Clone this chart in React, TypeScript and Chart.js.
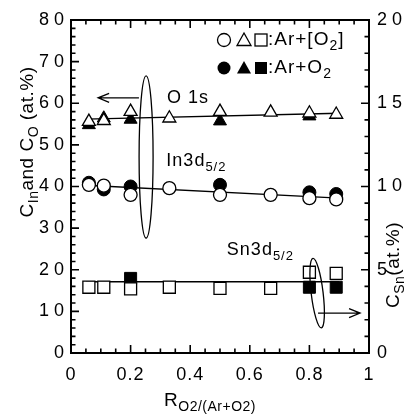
import React, { useEffect, useRef } from 'react';
import { Chart, registerables } from 'chart.js';
Chart.register(...registerables);

// ---------- data ----------
const xOpen = [0.06, 0.11, 0.2, 0.33, 0.5, 0.67, 0.8, 0.89];
const o1sOpen = [55.6, 55.8, 58.0, 56.4, 58.0, 57.8, 57.6, 57.3];
const in3dOpen = [40.4, 40.2, 38.0, 39.6, 38.0, 38.0, 37.2, 36.9];
const snOpen = [3.95, 3.95, 3.85, 3.95, 3.88, 3.88, 4.85, 4.78];

const xFilledO = [0.06, 0.11, 0.2, 0.5, 0.8];
const o1sFilled = [54.8, 56.4, 56.1, 55.7, 56.9];
const xFilledIn = [0.06, 0.11, 0.2, 0.5, 0.8, 0.89];
const in3dFilled = [40.9, 39.3, 40.0, 40.4, 38.6, 38.2];
const xFilledSn = [0.2, 0.8, 0.89];
const snFilled = [4.48, 3.95, 3.95];

const fitX = [0.05, 0.9];
const o1sFit = [56.2, 57.6];
const in3dFit = [40.3, 37.2];
const snFit = [4.28, 4.28];

const xTickLabels = ['0', '0.2', '0.4', '0.6', '0.8', '1'];
const xTickValues = [0, 0.2, 0.4, 0.6, 0.8, 1];
const yTickValues = [0, 10, 20, 30, 40, 50, 60, 70, 80];
const y2TickValues = [0, 5, 10, 15, 20];

// annotations (x in R units, y in left-axis units)
const o1sLabel = { x: 0.322, y: 61.3 };
const o1sArrow = { x1: 0.228, x2: 0.091, y: 61.3 };
const o1sEllipse = { x: 0.252, y: 47.1, rx: 0.0235, ry: 19.5 };
const inLabel = { x: 0.32, y: 46.0 };
const snLabel = { x: 0.523, y: 24.7 };
const snEllipse = { x: 0.826, y: 14.4, rx: 0.02, ry: 8.4 };
const snArrow = { x1: 0.829, x2: 0.97, y: 9.6 };

const FONT = '"Liberation Sans", Arial, Helvetica, sans-serif';

type Seg = { t: string; sub?: boolean };

function segWidth(ctx: CanvasRenderingContext2D, segs: Seg[], size: number, sub: number) {
  let w = 0;
  for (const s of segs) {
    ctx.font = `${s.sub ? sub : size}px ${FONT}`;
    w += ctx.measureText(s.t).width;
  }
  return w;
}

function drawSegs(ctx: CanvasRenderingContext2D, segs: Seg[], x: number, yMid: number, size: number, sub: number, align: 'left' | 'center') {
  ctx.textAlign = 'left';
  ctx.textBaseline = 'middle';
  let cx = x;
  if (align === 'center') cx = x - segWidth(ctx, segs, size, sub) / 2;
  for (const s of segs) {
    ctx.font = `${s.sub ? sub : size}px ${FONT}`;
    ctx.fillText(s.t, cx, s.sub ? yMid + size * 0.32 : yMid);
    cx += ctx.measureText(s.t).width;
  }
}

function arrow(ctx: CanvasRenderingContext2D, x1: number, y1: number, x2: number, y2: number) {
  ctx.beginPath();
  ctx.moveTo(x1, y1);
  ctx.lineTo(x2, y2);
  const dir = Math.sign(x2 - x1);
  ctx.moveTo(x2 - dir * 11, y2 - 4.5);
  ctx.lineTo(x2, y2);
  ctx.lineTo(x2 - dir * 11, y2 + 4.5);
  ctx.stroke();
}

const deco = {
  id: 'deco',
  afterDraw(chart: any) {
    const { ctx, chartArea: a, scales } = chart;
    const sx = scales.x, sy = scales.y, sy2 = scales.y2;
    const px = (v: number) => sx.getPixelForValue(v);
    const py = (v: number) => sy.getPixelForValue(v);
    const py2 = (v: number) => sy2.getPixelForValue(v);
    ctx.save();
    ctx.strokeStyle = '#000';
    ctx.fillStyle = '#000';
    ctx.lineWidth = 2;
    ctx.strokeRect(a.left, a.top, a.right - a.left, a.bottom - a.top);

    // ticks (inward)
    ctx.lineWidth = 1.6;
    ctx.beginPath();
    for (let i = 0; i <= 20; i++) {
      const x = px(i * 0.05);
      const L = i % 4 === 0 ? 8 : 4.5;
      ctx.moveTo(x, a.bottom); ctx.lineTo(x, a.bottom - L);
      ctx.moveTo(x, a.top); ctx.lineTo(x, a.top + L);
    }
    for (let i = 0; i <= 40; i++) {
      const y = py(i * 2);
      const L = i % 5 === 0 ? 8 : 4.5;
      ctx.moveTo(a.left, y); ctx.lineTo(a.left + L, y);
    }
    for (let i = 0; i <= 20; i++) {
      const y = py2(i);
      const L = i % 5 === 0 ? 8 : 4.5;
      ctx.moveTo(a.right, y); ctx.lineTo(a.right - L, y);
    }
    ctx.stroke();

    // tick labels
    ctx.font = `18px ${FONT}`;
    ctx.textBaseline = 'middle';
    (ctx as any).letterSpacing = '5px';
    ctx.textAlign = 'right';
    yTickValues.forEach((v) => ctx.fillText(String(v), a.left - 2, py(v)));
    ctx.textAlign = 'left';
    y2TickValues.forEach((v) => ctx.fillText(String(v), a.right + 8, py2(v)));
    (ctx as any).letterSpacing = '1px';
    ctx.textAlign = 'center';
    xTickValues.forEach((v, i) => ctx.fillText(xTickLabels[i], px(v), a.bottom + 22));

    // axis titles
    (ctx as any).letterSpacing = '0.5px';
    ctx.save();
    ctx.translate(28, 142);
    ctx.rotate(-Math.PI / 2);
    drawSegs(ctx, [{ t: 'C' }, { t: 'In', sub: true }, { t: 'and C' }, { t: 'O', sub: true }, { t: ' (at.%)' }], 0, 0, 19, 14, 'center');
    ctx.restore();
    ctx.save();
    ctx.translate(394, 265);
    ctx.rotate(-Math.PI / 2);
    drawSegs(ctx, [{ t: 'C' }, { t: 'Sn', sub: true }, { t: '(at.%)' }], 0, 0, 19, 14, 'center');
    ctx.restore();
    drawSegs(ctx, [{ t: 'R' }, { t: 'O2/(Ar+O2)', sub: true }], 210, 401, 19, 14, 'center');

    // annotations
    (ctx as any).letterSpacing = '1px';
    drawSegs(ctx, [{ t: 'O 1s' }], px(o1sLabel.x), py(o1sLabel.y), 18, 13, 'left');
    drawSegs(ctx, [{ t: 'In3d' }, { t: '5/2', sub: true }], px(inLabel.x), py(inLabel.y), 18, 13, 'left');
    drawSegs(ctx, [{ t: 'Sn3d' }, { t: '5/2', sub: true }], px(snLabel.x), py(snLabel.y), 18, 13, 'left');
    ctx.lineWidth = 1.3;
    arrow(ctx, px(o1sArrow.x1), py(o1sArrow.y), px(o1sArrow.x2), py(o1sArrow.y));
    arrow(ctx, px(snArrow.x1), py(snArrow.y), px(snArrow.x2), py(snArrow.y));
    const ell = (e: any, rot: number) => {
      const cx = px(e.x), cy = py(e.y);
      const rx = px(e.x + e.rx) - cx, ry = cy - py(e.y + e.ry);
      ctx.beginPath();
      ctx.ellipse(cx, cy, rx, ry, rot, 0, Math.PI * 2);
      ctx.stroke();
    };
    ell(o1sEllipse, 0);
    ell(snEllipse, -0.12);

    // legend
    const lx = a.left + 153;
    const rows = [a.top + 20, a.top + 48];
    rows.forEach((ry, r) => {
      ctx.lineWidth = 1.3;
      const filled = r === 1;
      // circle
      ctx.beginPath();
      ctx.arc(lx, ry, 6.5, 0, Math.PI * 2);
      filled ? ctx.fill() : ctx.stroke();
      // triangle
      ctx.beginPath();
      ctx.moveTo(lx + 20, ry - 7);
      ctx.lineTo(lx + 27, ry + 5.5);
      ctx.lineTo(lx + 13, ry + 5.5);
      ctx.closePath();
      filled ? ctx.fill() : ctx.stroke();
      // square
      if (filled) ctx.fillRect(lx + 31, ry - 6, 12, 12);
      else ctx.strokeRect(lx + 31, ry - 6, 12, 12);
      const segs: Seg[] = r === 0
        ? [{ t: ':Ar+[O' }, { t: '2', sub: true }, { t: ']' }]
        : [{ t: ':Ar+O' }, { t: '2', sub: true }];
      drawSegs(ctx, segs, lx + 44, ry, 19, 14, 'left');
    });
    ctx.restore();
  },
};

const pts = (xs: number[], ys: number[]) => xs.map((x, i) => ({ x, y: ys[i] }));

export default function App() {
  const ref = useRef<HTMLCanvasElement>(null);
  useEffect(() => {
    document.body.style.margin = '0';
    const open = { backgroundColor: '#fff', borderColor: '#000', borderWidth: 1.3, showLine: false };
    const fill = { backgroundColor: '#000', borderColor: '#000', borderWidth: 1, showLine: false };
    const line = { borderColor: '#000', borderWidth: 1.3, showLine: true, pointRadius: 0, fill: false };
    const chart = new Chart(ref.current!, {
      type: 'scatter',
      data: {
        datasets: [
          { label: 'O1s Ar+[O2]', data: pts(xOpen, o1sOpen), pointStyle: 'triangle', pointRadius: 7.5, yAxisID: 'y', ...open },
          { label: 'In Ar+[O2]', data: pts(xOpen, in3dOpen), pointStyle: 'circle', pointRadius: 6.5, yAxisID: 'y', ...open },
          { label: 'Sn Ar+[O2]', data: pts(xOpen, snOpen), pointStyle: 'rect', pointRadius: 8.5, yAxisID: 'y2', ...open },
          { label: 'O1s Ar+O2', data: pts(xFilledO, o1sFilled), pointStyle: 'triangle', pointRadius: 7.5, yAxisID: 'y', ...fill },
          { label: 'In Ar+O2', data: pts(xFilledIn, in3dFilled), pointStyle: 'circle', pointRadius: 6.5, yAxisID: 'y', ...fill },
          { label: 'Sn Ar+O2', data: pts(xFilledSn, snFilled), pointStyle: 'rect', pointRadius: 8.5, yAxisID: 'y2', ...fill },
          { label: 'O1s fit', data: pts(fitX, o1sFit), yAxisID: 'y', ...line },
          { label: 'In fit', data: pts(fitX, in3dFit), yAxisID: 'y', ...line },
          { label: 'Sn fit', data: pts(fitX, snFit), yAxisID: 'y2', ...line },
        ],
      },
      options: {
        animation: false,
        responsive: false,
        maintainAspectRatio: false,
        layout: { padding: { top: 20, left: 0, right: 0, bottom: 0 } },
        plugins: { legend: { display: false }, tooltip: { enabled: false } },
        scales: {
          x: {
            type: 'linear', min: 0, max: 1, position: 'bottom',
            grid: { display: false }, border: { display: false }, ticks: { display: false },
            afterFit: (s: any) => { s.height = 66; },
          },
          y: {
            type: 'linear', min: 0, max: 80, position: 'left',
            grid: { display: false }, border: { display: false }, ticks: { display: false },
            afterFit: (s: any) => { s.width = 71; },
          },
          y2: {
            type: 'linear', min: 0, max: 20, position: 'right',
            grid: { display: false }, border: { display: false }, ticks: { display: false },
            afterFit: (s: any) => { s.width = 39; },
          },
        },
      },
      plugins: [deco],
    } as any);
    return () => chart.destroy();
  }, []);
  return (
    <div style={{ width: 408, height: 419, background: '#fff' }}>
      <canvas ref={ref} width={408} height={419} style={{ display: 'block' }} />
    </div>
  );
}
